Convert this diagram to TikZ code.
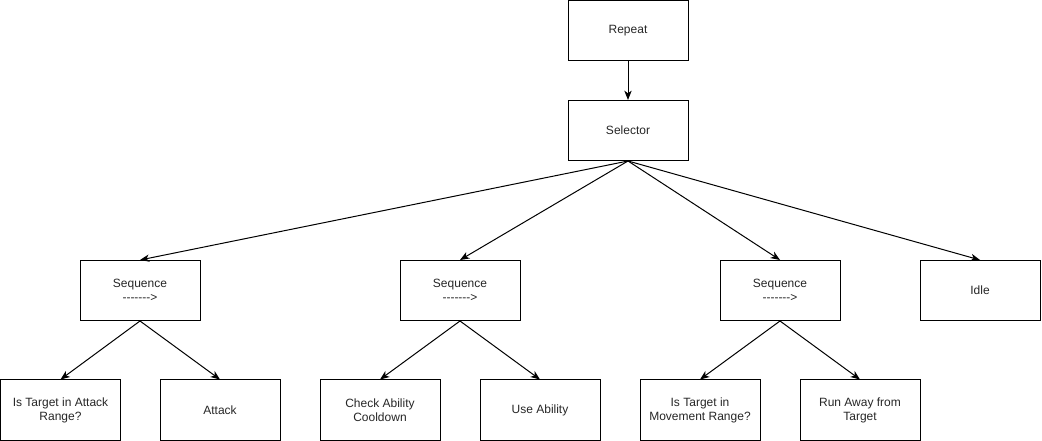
\documentclass[tikz,border=0pt]{standalone}
\usepackage{fontspec}
\setmainfont{Liberation Sans}
\usetikzlibrary{arrows.meta}
\begin{document}
\begin{tikzpicture}[x=0.75pt,y=-0.75pt,
  box/.style={draw,line width=0.75pt,minimum width=90pt,minimum height=45pt,inner sep=0pt,align=center,font=\fontsize{9}{10.5}\selectfont,text=black!85},
  conn/.style={line width=0.75pt,-{Stealth[length=7pt,width=5.5pt,inset=2pt]}}]
\useasboundingbox (0,0) rectangle (1042,441);
\node[box] (repeat) at (628,30.5) {Repeat};
\node[box] (selector) at (628,130.5) {Selector};
\node[box] (seq1) at (140,290.5) {Sequence\\-{}-{}-{}-{}-{}-{}->};
\node[box] (seq2) at (460,290.5) {Sequence\\-{}-{}-{}-{}-{}-{}->};
\node[box] (seq3) at (780,290.5) {Sequence\\-{}-{}-{}-{}-{}-{}->};
\node[box] (idle) at (980,290.5) {Idle};
\node[box] (c1) at (60.5,410) {Is Target in Attack\\Range?};
\node[box] (c2) at (220,410) {Attack};
\node[box] (c3) at (380,410) {Check Ability\\Cooldown};
\node[box] (c4) at (540,410) {Use Ability};
\node[box] (c5) at (700,410) {Is Target in\\Movement Range?};
\node[box] (c6) at (860,410) {Run Away from\\Target};
\draw[conn] (repeat.south) -- (selector.north);
\foreach \t in {seq1,seq2,seq3,idle}
  \draw[conn] (selector.south) -- (\t.north);
\draw[conn] (seq1.south) -- (c1.north);
\draw[conn] (seq1.south) -- (c2.north);
\draw[conn] (seq2.south) -- (c3.north);
\draw[conn] (seq2.south) -- (c4.north);
\draw[conn] (seq3.south) -- (c5.north);
\draw[conn] (seq3.south) -- (c6.north);
\end{tikzpicture}
\end{document}
